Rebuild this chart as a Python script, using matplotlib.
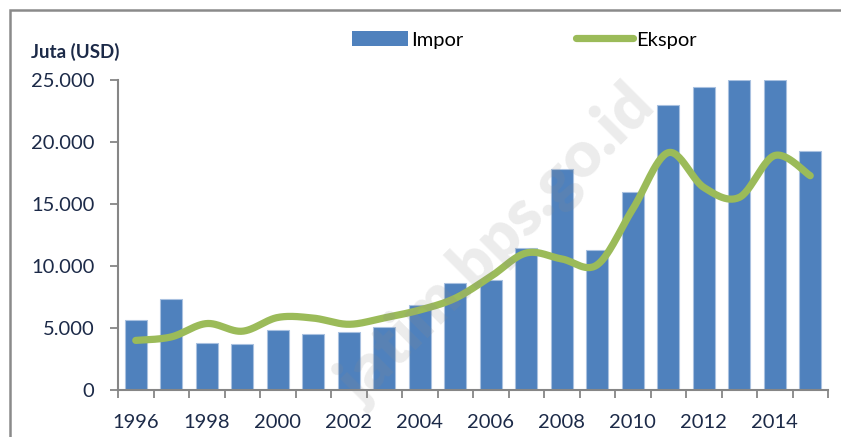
import numpy as np
import matplotlib
matplotlib.use("Agg")
import matplotlib.pyplot as plt
from matplotlib.patches import Rectangle, Patch
from matplotlib.lines import Line2D

# data (juta USD)
tahun = list(range(1996, 2016))
impor = [5650, 7340, 3790, 3670, 4840, 4520, 4680, 5080, 6850, 8600,
         8870, 11430, 17820, 11310, 15970, 22980, 24450, 25000, 25000, 19270]
ekspor = [4000, 4280, 5360, 4740, 5850, 5800, 5300, 5820, 6450, 7400,
          9150, 11050, 10570, 10100, 14590, 19140, 16340, 15530, 18910, 17280]
label_tahun = [str(t) if t % 2 == 0 else "" for t in tahun]

plt.rcParams['font.family'] = ['Lato', 'DejaVu Sans']
teks = '#1c2a48'
abu = '#868686'

def smooth(x, y, n=30):
    # kurva halus ala Excel (Bezier dari Catmull-Rom)
    x = np.asarray(x, float)
    y = np.asarray(y, float)
    px = np.concatenate([[x[0]], x, [x[-1]]])
    py = np.concatenate([[y[0]], y, [y[-1]]])
    xs, ys = [], []
    t = np.linspace(0, 1, n)
    for i in range(1, len(px) - 2):
        p0 = np.array([px[i], py[i]])
        p3 = np.array([px[i + 1], py[i + 1]])
        p1 = p0 + (np.array([px[i + 1], py[i + 1]]) - np.array([px[i - 1], py[i - 1]])) / 6
        p2 = p3 - (np.array([px[i + 2], py[i + 2]]) - np.array([px[i], py[i]])) / 6
        b = ((1 - t) ** 3)[:, None] * p0 + (3 * (1 - t) ** 2 * t)[:, None] * p1 \
            + (3 * (1 - t) * t ** 2)[:, None] * p2 + (t ** 3)[:, None] * p3
        xs.extend(b[:, 0])
        ys.extend(b[:, 1])
    return np.array(xs), np.array(ys)

fig = plt.figure(figsize=(8.41, 4.37), dpi=100)
ax = fig.add_axes([118 / 841, 1 - 390 / 437, 710 / 841, 310 / 437])

x = np.arange(len(tahun))
ax.bar(x, impor, width=0.61, color='#4f81bd', edgecolor='#a9c1e0', linewidth=0.8, zorder=2)
sx, sy = smooth(x, ekspor)
ax.plot(sx, sy, color='#9bbb59', lw=5.2, solid_capstyle='round', zorder=3)

ax.set_xlim(-0.5, len(tahun) - 0.5)
ax.set_ylim(0, 25000)
ax.set_yticks([0, 5000, 10000, 15000, 20000, 25000])
ax.set_yticklabels(['0', '5.000', '10.000', '15.000', '20.000', '25.000'])
ax.set_xticks(np.arange(-0.5, len(tahun)), labels=[''] * (len(tahun) + 1))
ax.set_xticks(x, labels=label_tahun, minor=True)
ax.tick_params(axis='y', length=6, width=1.3, color=abu, pad=11, labelsize=14.5, labelcolor=teks)
ax.tick_params(axis='x', which='major', length=6, width=1.3, color=abu)
ax.tick_params(axis='x', which='minor', length=0, pad=17, labelsize=14.5, labelcolor=teks)
for s in ['top', 'right']:
    ax.spines[s].set_visible(False)
for s in ['left', 'bottom']:
    ax.spines[s].set_color(abu)
    ax.spines[s].set_linewidth(1.5)

fig.text(31 / 841, 1 - 52 / 437, 'Juta (USD)', fontsize=13.5, fontweight='bold',
         color=teks, va='center', ha='left')

handles = [Patch(facecolor='#4f81bd', edgecolor='none'),
           Line2D([0], [0], color='#9bbb59', lw=5.2, solid_capstyle='round')]
fig.legend(handles, ['Impor', 'Ekspor'], ncol=2, frameon=False, fontsize=14.5,
           loc='center left', bbox_to_anchor=(352 / 841, 1 - 40 / 437),
           handlelength=2.8, handleheight=0.75, handletextpad=0.15, columnspacing=5.6,
           borderpad=0, borderaxespad=0)

# watermark
fig.text(497 / 841, 1 - 246 / 437, 'jatim.bps.go.id', fontsize=46, fontweight='heavy',
         color='#8c8c8c', alpha=0.17, rotation=45, ha='center', va='center',
         rotation_mode='anchor', zorder=10)

# bingkai
fig.patches.append(Rectangle((10 / 841, -0.1), 1.2, 1 - 10 / 437 + 0.1, transform=fig.transFigure,
                             fill=False, edgecolor='#8a8a8a', linewidth=1.8))

fig.savefig('out.png', dpi=100)
